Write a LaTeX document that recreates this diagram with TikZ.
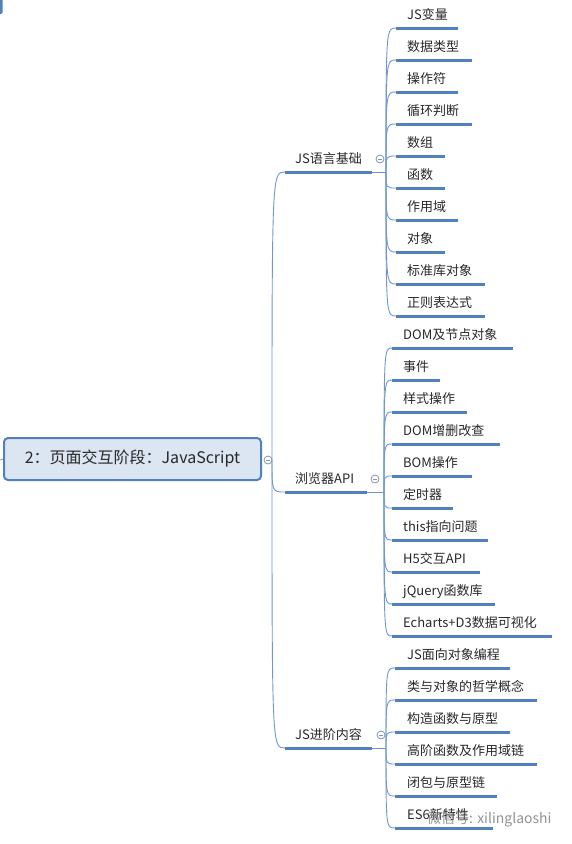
\documentclass[tikz,border=0pt]{standalone}
\usepackage{fontspec}
\setmainfont{Noto Sans CJK SC}
\definecolor{ublue}{RGB}{79,129,189}
\definecolor{cblue}{RGB}{112,150,204}
\definecolor{rootfill}{RGB}{220,230,242}
\definecolor{txt}{RGB}{40,40,40}
\definecolor{cgray}{RGB}{130,148,170}
\tikzset{
  item/.style={font=\fontsize{13}{15}\selectfont, text=txt, inner sep=0pt, anchor=base west},
  uline/.style={ublue, line width=3pt},
  conn/.style={cblue, line width=0.9pt},
  collapse/.style={circle, draw=cgray, fill=white, line width=0.8pt, minimum size=8pt, inner sep=0pt,
    path picture={\draw[cgray, line width=0.8pt] ([xshift=-2pt]path picture bounding box.center) -- ([xshift=2pt]path picture bounding box.center);}},
  rootbox/.style={draw=ublue, line width=2pt, fill=rootfill, rounded corners=4pt,
    minimum width=257pt, minimum height=42pt, inner sep=0pt, font=\fontsize{16}{19}\selectfont, text=txt}
}
\begin{document}
\begin{tikzpicture}[x=1pt,y=-1pt]
\useasboundingbox (0,0) rectangle (571,844);
% fragments at left edge
\fill[ublue, rounded corners=1.5pt] (-2,-2) rectangle (2.5,14);
\coordinate (lin) at (0,460);
% root
\node[rootbox] (root) at (132.5,459) {2：页面交互阶段：JavaScript};
\draw[cblue, line width=0.8pt] (lin) -- (root.west);
\node[collapse] (rc) at (268,460) {};
\coordinate (rs) at (272,460);
% level 1
\foreach \t/\y/\e/\cx/\sx [count=\i] in {JS语言基础/172/372/380/386, 浏览器API/492/367/375/384, JS进阶内容/748/372/381/386}{
  \node[item] (L\i) at (295,\y-9) {\t};
  \coordinate (Ls\i) at (285,\y);
  \coordinate (Le\i) at (\e,\y);
  \coordinate (P\i) at (\sx,\y);
  \draw[conn] (rs) .. controls (rs |- Ls\i) and (rs |- Ls\i) .. (Ls\i);
  \draw[uline] (Ls\i) -- (Le\i);
  \draw[conn] (Le\i) -- (P\i);
  \node[collapse] (C\i) at (\cx,\y-13) {};
}
% group A
\foreach \t/\y/\e [count=\i] in {JS变量/28/458, 数据类型/60/472, 操作符/92/458, 循环判断/124/472, 数组/156/445, 函数/188/445, 作用域/220/458, 对象/252/445, 标准库对象/284/485, 正则表达式/316/485}{
  \node[item] (a\i) at (407,\y-9) {\t};
  \coordinate (as\i) at (396,\y);
  \coordinate (ae\i) at (\e,\y);
  \draw[conn] (P1) .. controls (P1 |- as\i) and (P1 |- as\i) .. (as\i);
  \draw[uline] (as\i) -- (ae\i);
}
% group B
\foreach \t/\y/\e [count=\i] in {DOM及节点对象/348/513, 事件/380/440, 样式操作/412/467, DOM增删改查/444/500, BOM操作/476/472, 定时器/508/453, this指向问题/540/488, H5交互API/572/480, jQuery函数库/604/495, Echarts+D3数据可视化/636/552}{
  \node[item] (b\i) at (403,\y-9) {\t};
  \coordinate (bs\i) at (392,\y);
  \coordinate (be\i) at (\e,\y);
  \draw[conn] (P2) .. controls (P2 |- bs\i) and (P2 |- bs\i) .. (bs\i);
  \draw[uline] (bs\i) -- (be\i);
}
% group C
\foreach \t/\y/\e [count=\i] in {JS面向对象编程/668/510, 类与对象的哲学概念/700/537, 构造函数与原型/732/510, 高阶函数及作用域链/764/537, 闭包与原型链/796/497, ES6新特性/828/493}{
  \node[item] (c\i) at (407,\y-9) {\t};
  \coordinate (cs\i) at (395,\y);
  \coordinate (ce\i) at (\e,\y);
  \draw[conn] (P3) .. controls (P3 |- cs\i) and (P3 |- cs\i) .. (cs\i);
  \draw[uline] (cs\i) -- (ce\i);
}
% watermark
\node[font=\fontsize{14}{16}\selectfont, text=gray, opacity=0.85, inner sep=0pt, anchor=west] (wm) at (427,819) {微信号: xilinglaoshi};
\end{tikzpicture}
\end{document}
